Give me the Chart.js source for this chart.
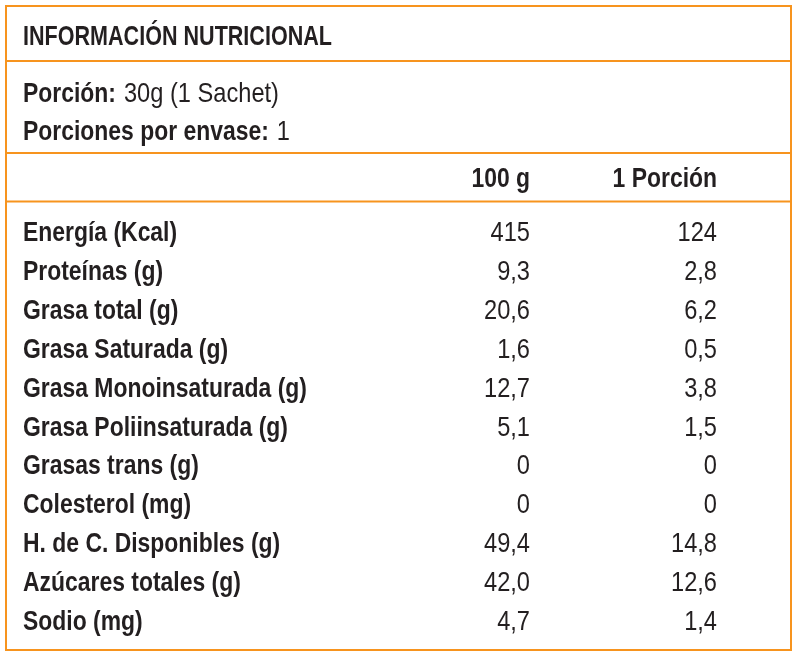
<!DOCTYPE html>
<html>
<head>
<meta charset="utf-8">
<script src="https://cdn.jsdelivr.net/npm/chart.js@4/dist/chart.umd.min.js"></script>
<style>
  html, body { margin: 0; padding: 0; background: #ffffff; }
  #wrap { position: relative; width: 798px; height: 657px; }
</style>
</head>
<body>
<div id="wrap"><canvas id="tabla"></canvas></div>
<script>
// data
const titulo = 'INFORMACIÓN NUTRICIONAL';
const porcionLabel = 'Porción:';
const porcionValor = '30g (1 Sachet)';
const envaseLabel = 'Porciones por envase:';
const envaseValor = '1';
const columnas = ['100 g', '1 Porción'];
const nutrientes = [
    'Energía (Kcal)', 'Proteínas (g)', 'Grasa total (g)', 'Grasa Saturada (g)',
    'Grasa Monoinsaturada (g)', 'Grasa Poliinsaturada (g)', 'Grasas trans (g)',
    'Colesterol (mg)', 'H. de C. Disponibles (g)', 'Azúcares totales (g)', 'Sodio (mg)'
];
const por100g = [415, 9.3, 20.6, 1.6, 12.7, 5.1, 0, 0, 49.4, 42.0, 4.7];
const porPorcion = [124, 2.8, 6.2, 0.5, 3.8, 1.5, 0, 0, 14.8, 12.6, 1.4];
const decimales = [0, 1, 1, 1, 1, 1, 0, 0, 1, 1, 1];

const NARANJA = '#f7941e';
const TINTA = '#231f20';
const FAMILIA = '"Liberation Sans", Arial, sans-serif';
const colX = [530, 717]; // right edges of the value columns

const formato = (v, d) => v.toFixed(d).replace('.', ',');

// draw condensed text by squeezing horizontally
const texto = (ctx, str, x, y, bold, align, escala) => {
    ctx.save();
    ctx.font = (bold ? 'bold ' : '') + '28px ' + FAMILIA;
    ctx.fillStyle = TINTA;
    ctx.textBaseline = 'alphabetic';
    const w = ctx.measureText(str).width * escala;
    const x0 = align === 'right' ? x - w : x;
    ctx.translate(x0, y);
    ctx.scale(escala, 1);
    ctx.fillText(str, 0, 0);
    ctx.restore();
    return w;
};

const tablaPlugin = {
    id: 'tablaNutricional',
    afterDatasetsDraw(chart) {
        const ctx = chart.ctx;
        const yScale = chart.scales.y;

        // squeeze factors so the type looks like a condensed face
        ctx.font = 'bold 28px ' + FAMILIA;
        const escT = 309 / ctx.measureText(titulo).width;
        const escB = 284 / ctx.measureText(nutrientes[4]).width;
        ctx.font = '28px ' + FAMILIA;
        const escR = 155 / ctx.measureText(porcionValor).width;

        // frame and separators
        ctx.save();
        ctx.strokeStyle = NARANJA;
        ctx.lineWidth = 2;
        ctx.strokeRect(6, 6, 785, 644);
        [61, 153, 201.5].forEach((y) => {
            ctx.beginPath();
            ctx.moveTo(6, y);
            ctx.lineTo(791, y);
            ctx.stroke();
        });
        ctx.restore();

        texto(ctx, titulo, 23, 45, true, 'left', escT);

        let w = texto(ctx, porcionLabel, 23, 102, true, 'left', escB);
        texto(ctx, porcionValor, 23 + w + 8, 102, false, 'left', escR);
        w = texto(ctx, envaseLabel, 23, 140, true, 'left', escB);
        texto(ctx, envaseValor, 23 + w + 8, 140, false, 'left', escR);

        columnas.forEach((c, j) => texto(ctx, c, colX[j], 187, true, 'right', escB));

        nutrientes.forEach((n, i) => {
            const y = yScale.getPixelForValue(i) + 10.5;
            texto(ctx, n, 23, y, true, 'left', escB);
            texto(ctx, formato(por100g[i], decimales[i]), colX[0], y, false, 'right', escR);
            texto(ctx, formato(porPorcion[i], decimales[i]), colX[1], y, false, 'right', escR);
        });
    }
};

new Chart(document.getElementById('tabla').getContext('2d'), {
    type: 'bar',
    data: {
        labels: nutrientes,
        datasets: [
            { label: columnas[0], data: por100g, backgroundColor: 'rgba(0,0,0,0)' },
            { label: columnas[1], data: porPorcion, backgroundColor: 'rgba(0,0,0,0)' },
        ],
    },
    options: {
        indexAxis: 'y',
        responsive: true,
        maintainAspectRatio: false,
        animation: false,
        events: [],
        layout: { padding: { top: 211, bottom: 18, left: 6, right: 6 } },
        plugins: { legend: { display: false }, tooltip: { enabled: false } },
        scales: {
            x: { display: false, min: 0, max: 500 },
            y: { display: false, type: 'category' },
        },
    },
    plugins: [tablaPlugin],
});
</script>
</body>
</html>
